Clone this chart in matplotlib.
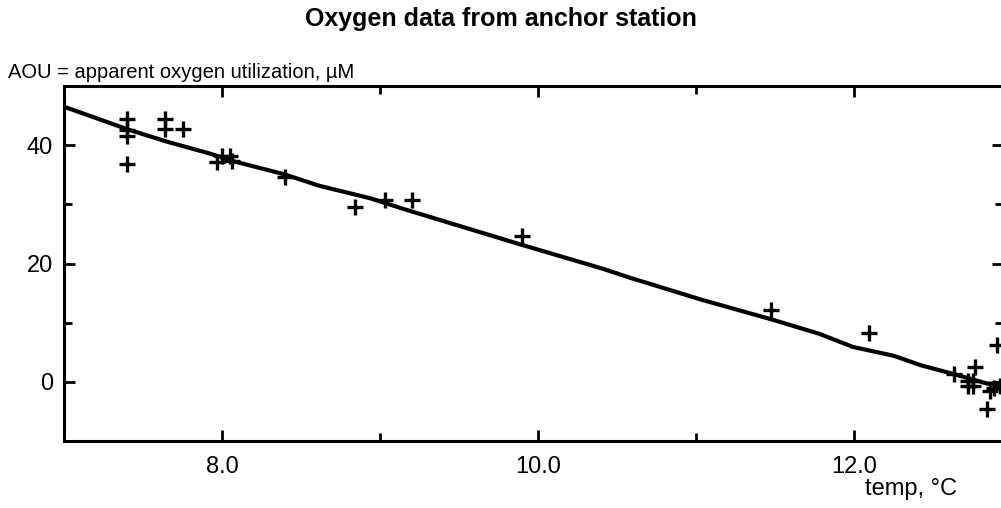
import numpy as np
import matplotlib
matplotlib.use('Agg')
from matplotlib import pyplot as plt
from matplotlib.ticker import FixedLocator

plt.rcParams['font.family'] = ['Liberation Sans', 'DejaVu Sans']

# measured samples (temp in deg C, AOU in uM)
temp = [7.40, 7.40, 7.40, 7.40, 7.64, 7.64, 7.75,
        7.97, 8.00, 8.05, 8.06, 8.40,
        8.84, 9.03, 9.20, 9.90,
        11.47, 12.09, 12.63, 12.72, 12.72, 12.75, 12.75, 12.76,
        12.84, 12.86, 12.88, 12.90, 12.92]
aou = [44.5, 42.5, 41.5, 36.8, 44.4, 42.7, 42.7,
       37.1, 38.1, 38.1, 37.3, 34.6,
       29.5, 30.7, 30.7, 24.6,
       12.1, 8.3, 1.3, 0.2, -0.7, 0.2, -0.7, 2.5,
       -4.6, -1.5, -1.0, 6.2, -0.7]

# smoothed fit curve
fit_t = [7.00, 7.40, 7.65, 7.92, 8.07, 8.39, 8.62, 8.85, 8.94, 9.15,
         9.89, 10.41, 10.58, 11.03, 11.47, 11.78, 11.99, 12.25, 12.42,
         12.63, 12.84, 12.95]
fit_a = [46.5, 42.7, 40.6, 38.6, 37.3, 35.1, 33.1, 31.6, 31.0, 29.2,
         23.2, 19.1, 17.6, 13.9, 10.6, 8.1, 5.9, 4.4, 2.8,
         1.3, -0.3, -0.3]

fig = plt.figure(figsize=(10.01, 5.08), dpi=100)
ax = fig.add_axes([64/1001, 67/508, 1 - 64/1001 + 0.002, 355/508])

ax.plot(fit_t, fit_a, color='black', lw=3.0, solid_capstyle='butt')
ax.plot(temp, aou, '+', color='black', ms=11, mew=2.4)

ax.set_xlim(7.0, 12.94)
ax.set_ylim(-10, 50)

ax.xaxis.set_major_locator(FixedLocator([8, 10, 12]))
ax.xaxis.set_minor_locator(FixedLocator([9, 11]))
ax.yaxis.set_major_locator(FixedLocator([0, 20, 40]))
ax.yaxis.set_minor_locator(FixedLocator([10, 30]))
ax.set_xticklabels(['8.0', '10.0', '12.0'])

ax.tick_params(which='both', direction='in', top=True, right=True,
               width=2, labelsize=17, color='black')
ax.tick_params(which='major', length=8)
ax.tick_params(which='minor', length=6)
ax.tick_params(axis='x', pad=11)
ax.tick_params(axis='y', pad=8)
for s in ax.spines.values():
    s.set_linewidth(2.2)

fig.text(0.5, 1 - 19/508, 'Oxygen data from anchor station', ha='center', va='center',
         fontsize=18, fontweight='bold')
fig.text(8/1001, 1 - 72/508, 'AOU = apparent oxygen utilization, \u00b5M',
         ha='left', va='center', fontsize=14.5)
fig.text(957/1001, 1 - 489/508, 'temp, \u00b0C', ha='right', va='center', fontsize=17)

fig.savefig('out.png', dpi=100)
